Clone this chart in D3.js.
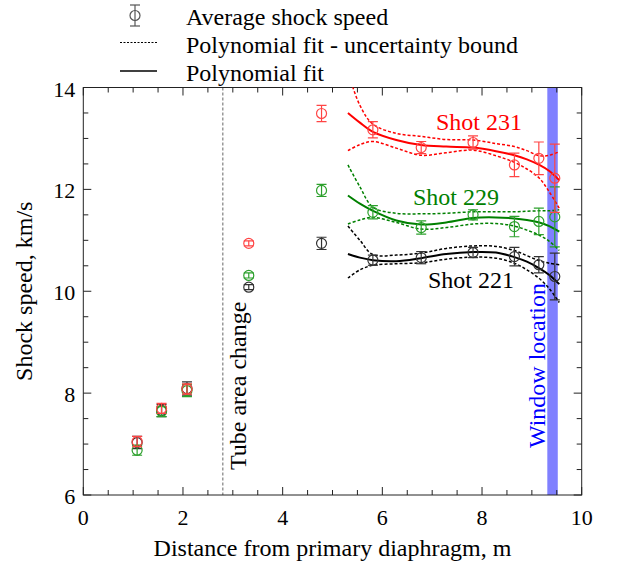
<!DOCTYPE html>
<html>
<head>
<meta charset="utf-8">
<script src="https://cdn.jsdelivr.net/npm/d3@7"></script>
<style>
  body { margin: 0; background: #fff; }
  text { font-family: "Liberation Serif", "DejaVu Serif", serif; }
</style>
</head>
<body>
<script>
"use strict";

// measured points: distance (m) and shock speed (km/s) for each shot
const distance = [1.08, 1.57, 2.08, 3.32, 4.78, 5.81, 6.78, 7.82, 8.65, 9.14, 9.46];
const speed231 = [7.05, 7.70, 8.08, 10.94, 13.49, 13.17, 12.82, 12.92, 12.48, 12.61, 12.22];
const err231 = [0.10, 0.10, 0.10, 0.05, 0.16, 0.16, 0.12, 0.13, 0.23, 0.32, 0.67];
const speed229 = [6.88, 7.64, 8.05, 10.31, 11.98, 11.55, 11.25, 11.50, 11.27, 11.37, 11.46];
const err229 = [0.10, 0.10, 0.12, 0.05, 0.12, 0.13, 0.13, 0.10, 0.20, 0.26, 0.59];
const speed221 = [7.03, 7.66, 8.09, 10.08, 10.94, 10.61, 10.66, 10.76, 10.68, 10.52, 10.29];
const err221 = [0.12, 0.12, 0.13, 0.05, 0.12, 0.10, 0.12, 0.10, 0.18, 0.16, 0.46];

// polynomial fits and uncertainty bounds
const fitX = [5.31, 5.55, 5.81, 6.28, 6.78, 7.28, 7.82, 8.28, 8.65, 8.9, 9.15, 9.35, 9.55];
const fit231 = [13.50, 13.31, 13.13, 12.97, 12.87, 12.84, 12.82, 12.75, 12.67, 12.59, 12.48, 12.36, 12.18];
const up231 = [14.30, 13.65, 13.28, 13.10, 13.04, 12.98, 12.97, 12.90, 12.84, 12.76, 12.66, 12.67, 12.74];
const lo231 = [12.76, 12.88, 12.94, 12.81, 12.67, 12.72, 12.77, 12.66, 12.53, 12.40, 12.22, 11.95, 11.63];
const fit229 = [11.88, 11.72, 11.58, 11.39, 11.31, 11.35, 11.44, 11.45, 11.43, 11.40, 11.35, 11.28, 11.17];
const up229 = [12.48, 12.05, 11.65, 11.53, 11.52, 11.53, 11.56, 11.56, 11.56, 11.57, 11.58, 11.58, 11.60];
const lo229 = [11.32, 11.40, 11.45, 11.35, 11.22, 11.25, 11.32, 11.33, 11.28, 11.20, 11.10, 10.98, 10.80];
const fit221 = [10.73, 10.66, 10.61, 10.59, 10.65, 10.73, 10.77, 10.76, 10.67, 10.58, 10.45, 10.32, 10.14];
const up221 = [11.28, 11.00, 10.72, 10.71, 10.75, 10.84, 10.89, 10.88, 10.80, 10.70, 10.60, 10.55, 10.52];
const lo221 = [10.26, 10.42, 10.51, 10.54, 10.56, 10.63, 10.67, 10.65, 10.55, 10.42, 10.25, 10.05, 9.78];

const xTicks = [0, 2, 4, 6, 8, 10];
const yTicks = [6, 8, 10, 12, 14];
const tubeChange = 2.8;
const windowBand = [9.31, 9.52];

//Dimensions
const w = 620;
const h = 564;
const plotL = 83.3, plotR = 581.7, plotT = 87.5, plotB = 495;

const svg = d3.select("body").append("svg").attr("width", w).attr("height", h);

const xScale = d3.scaleLinear().domain([0, 10]).range([plotL, plotR]);
const yScale = d3.scaleLinear().domain([6, 14]).range([plotB, plotT]);

svg.append("clipPath").attr("id", "plotclip")
  .append("rect").attr("x", plotL).attr("y", plotT).attr("width", plotR - plotL).attr("height", plotB - plotT);

//window band
svg.append("rect")
  .attr("x", xScale(windowBand[0]))
  .attr("y", plotT)
  .attr("width", xScale(windowBand[1]) - xScale(windowBand[0]))
  .attr("height", plotB - plotT)
  .attr("fill", "#8080ff");

//tube area change line
svg.append("line")
  .attr("x1", xScale(tubeChange)).attr("x2", xScale(tubeChange))
  .attr("y1", plotT).attr("y2", plotB)
  .attr("stroke", "#666").attr("stroke-width", 1).attr("stroke-dasharray", "3,2");

//frame with inward ticks on all four sides
const xMinor = d3.range(0, 10.01, 0.5);
const yMinor = d3.range(6, 14.01, 0.5);
const frame = svg.append("g").attr("stroke", "#222").attr("stroke-width", 1);
[[plotB, -1], [plotT, 1]].forEach(([y0, dir]) => {
  frame.selectAll(null).data(xMinor).enter().append("line")
    .attr("x1", (d) => xScale(d)).attr("x2", (d) => xScale(d))
    .attr("y1", y0).attr("y2", (d) => y0 + dir * (d % 2 === 0 ? 8 : 5));
});
[[plotL, 1], [plotR, -1]].forEach(([x0, dir]) => {
  frame.selectAll(null).data(yMinor).enter().append("line")
    .attr("y1", (d) => yScale(d)).attr("y2", (d) => yScale(d))
    .attr("x1", x0).attr("x2", (d) => x0 + dir * (d % 2 === 0 ? 8 : 5));
});
frame.append("rect").attr("x", plotL).attr("y", plotT)
  .attr("width", plotR - plotL).attr("height", plotB - plotT).attr("fill", "none");

//tick labels
svg.selectAll(".xlab").data(xTicks).enter().append("text")
  .attr("x", (d) => xScale(d)).attr("y", plotB + 30)
  .attr("text-anchor", "middle").attr("font-size", 22).text((d) => d);
svg.selectAll(".ylab").data(yTicks).enter().append("text")
  .attr("x", plotL - 8).attr("y", (d) => yScale(d) + 9)
  .attr("text-anchor", "end").attr("font-size", 22).text((d) => d);

//axis titles
svg.append("text").attr("x", (plotL + plotR) / 2).attr("y", 556)
  .attr("text-anchor", "middle").attr("font-size", 24).text("Distance from primary diaphragm, m");
svg.append("text").attr("transform", `translate(32,${(plotT + plotB) / 2}) rotate(-90)`)
  .attr("text-anchor", "middle").attr("font-size", 24).text("Shock speed, km/s");

//annotations
svg.append("text").attr("transform", `translate(246,470) rotate(-90)`)
  .attr("font-size", 24).text("Tube area change");
svg.append("text").attr("transform", `translate(545,448) rotate(-90)`)
  .attr("font-size", 24).attr("fill", "#0000ff").text("Window location");

//fits
const line = d3.line()
  .x((d) => xScale(d[0]))
  .y((d) => yScale(d[1]))
  .curve(d3.curveCatmullRom.alpha(0.5));

const plot = svg.append("g").attr("clip-path", "url(#plotclip)");

const shots = [
  { name: "Shot 231", color: "#ff0000", pt: "#ff4444", y: speed231, err: err231, fit: fit231, up: up231, lo: lo231, lx: 436, ly: 130 },
  { name: "Shot 229", color: "#008000", pt: "#2ca02c", y: speed229, err: err229, fit: fit229, up: up229, lo: lo229, lx: 413, ly: 205 },
  { name: "Shot 221", color: "#000000", pt: "#333333", y: speed221, err: err221, fit: fit221, up: up221, lo: lo221, lx: 428, ly: 288 }
];

shots.forEach((s) => {
  [s.up, s.lo].forEach((b) => {
    plot.append("path").datum(fitX.map((x, i) => [x, b[i]]))
      .attr("d", line).attr("fill", "none")
      .attr("stroke", s.color).attr("stroke-width", 1.5).attr("stroke-dasharray", "3,2");
  });
  plot.append("path").datum(fitX.map((x, i) => [x, s.fit[i]]))
    .attr("d", line).attr("fill", "none")
    .attr("stroke", s.color).attr("stroke-width", 2);
  svg.append("text").attr("x", s.lx).attr("y", s.ly)
    .attr("font-size", 24).attr("fill", s.color).text(s.name);
});

//points with error bars, red drawn last so it sits on top where they overlap
[shots[2], shots[1], shots[0]].forEach((s) => {
  const pts = plot.append("g").attr("stroke", s.pt).attr("fill", "none").attr("stroke-width", 1.2);
  distance.forEach((x, i) => {
    const cx = xScale(x);
    const y1 = yScale(s.y[i] + s.err[i]);
    const y2 = yScale(s.y[i] - s.err[i]);
    pts.append("line").attr("x1", cx).attr("x2", cx).attr("y1", y1).attr("y2", y2);
    pts.append("line").attr("x1", cx - 5).attr("x2", cx + 5).attr("y1", y1).attr("y2", y1);
    pts.append("line").attr("x1", cx - 5).attr("x2", cx + 5).attr("y1", y2).attr("y2", y2);
    pts.append("circle").attr("cx", cx).attr("cy", yScale(s.y[i])).attr("r", 5);
  });
});

//legend
const legend = svg.append("g");
const lg = legend.append("g").attr("stroke", "#555").attr("fill", "none").attr("stroke-width", 1.2);
lg.append("line").attr("x1", 135).attr("x2", 135).attr("y1", 5).attr("y2", 26);
lg.append("line").attr("x1", 130).attr("x2", 140).attr("y1", 5).attr("y2", 5);
lg.append("line").attr("x1", 130).attr("x2", 140).attr("y1", 26).attr("y2", 26);
lg.append("circle").attr("cx", 135).attr("cy", 15.5).attr("r", 5);
legend.append("line").attr("x1", 120).attr("x2", 157).attr("y1", 42.5).attr("y2", 42.5)
  .attr("stroke", "#000").attr("stroke-width", 1.2).attr("stroke-dasharray", "2,1.5");
legend.append("line").attr("x1", 120).attr("x2", 157).attr("y1", 71).attr("y2", 71)
  .attr("stroke", "#000").attr("stroke-width", 1.5);
const legendText = ["Average shock speed", "Polynomial fit - uncertainty bound", "Polynomial fit"];
legend.selectAll("text").data(legendText).enter().append("text")
  .attr("x", 186).attr("y", (d, i) => 25 + i * 28)
  .attr("font-size", 24).text((d) => d);
</script>
</body>
</html>
